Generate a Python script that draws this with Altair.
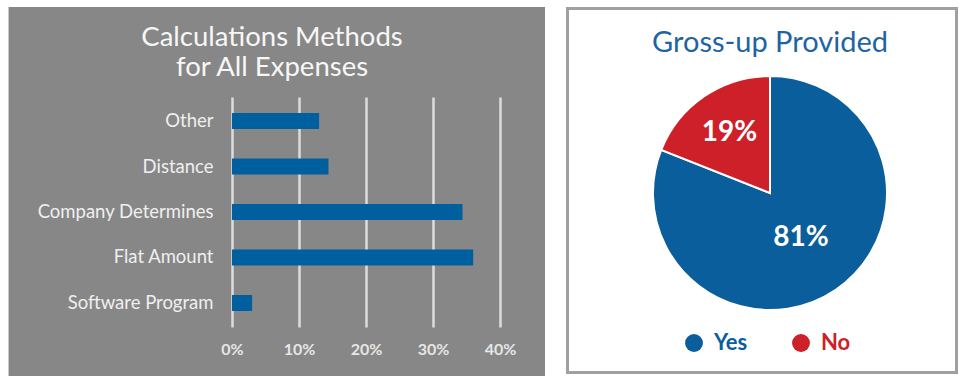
import altair as alt
import pandas as pd

# ---- data ----
methods = ["Other", "Distance", "Company Determines", "Flat Amount", "Software Program"]
shares = [0.13, 0.144, 0.344, 0.36, 0.03]
x_ticks = [0, 0.1, 0.2, 0.3, 0.4]

pie_cats = ["Yes", "No"]
pie_vals = [81, 19]
pie_colors = ["#0a5e9c", "#cd2029"]

left_title = ["Calculations Methods", "for All Expenses"]
right_title = "Gross-up Provided"

GRAY = "#878787"
BAR_BLUE = "#005f9e"
FONT = "Lato"

bars_df = pd.DataFrame({"method": methods, "share": shares})
pie_df = pd.DataFrame({"cat": pie_cats, "value": pie_vals, "idx": list(range(len(pie_cats)))})
one = pd.DataFrame({"k": [0]})

# plot origin is at (232, 97) on the page
def rect(x, x2, y, y2, fill, stroke=None, sw=0):
    kw = dict(fill=fill)
    if stroke:
        kw.update(stroke=stroke, strokeWidth=sw)
    return alt.Chart(one).mark_rect(**kw).encode(
        x=alt.value(x), x2=alt.value(x2), y=alt.value(y), y2=alt.value(y2)
    )

bg_top = rect(-232, 727, -97, -90, "white")
bg_left = rect(-232, -224, -97, 279, "white")
bg_left_edge = rect(-224, -223, -90, 279, "#c9c9c9")
bg_right = rect(313, 727, -97, 279, "white")
panel = rect(335.5, 724.5, -88.5, 275.5, "white", "#a0a0a0", 3)

bars = alt.Chart(bars_df).mark_bar(color=BAR_BLUE).encode(
    x=alt.X(
        "share:Q",
        scale=alt.Scale(domain=[0, 0.4], nice=False, zero=True),
        axis=alt.Axis(
            values=x_ticks, format=".0%", grid=True, gridColor="#dcdcdc", gridWidth=2.5,
            domain=False, ticks=False, labelFontSize=16, labelFont=FONT,
            labelFontWeight="bold", labelColor="#e6e6e6", labelPadding=14, title=None,
            labelFlush=False,
        ),
    ),
    y=alt.Y(
        "method:N", sort=methods,
        scale=alt.Scale(paddingInner=0.648, paddingOuter=0.352),
        axis=alt.Axis(
            domain=False, ticks=False, grid=False, labelFontSize=18.5, labelFont=FONT,
            labelColor="#efefef", labelPadding=19, title=None, labelLimit=400,
        ),
    ),
)

def title_text(txt, x, y, size, color):
    return alt.Chart(one).mark_text(
        text=txt, font=FONT, fontSize=size, color=color, align="center", baseline="alphabetic"
    ).encode(x=alt.value(x), y=alt.value(y))

t1 = title_text(left_title[0], 40, -51, 27.5, "#f7f7f7")
t2 = title_text(left_title[1], 40, -21, 27.5, "#f7f7f7")
t3 = title_text(right_title, 538, -45, 29, "#1f64a2")

color = alt.Color(
    "cat:N",
    scale=alt.Scale(domain=pie_cats, range=pie_colors),
    legend=alt.Legend(
        orient="none", direction="horizontal", legendX=451, legendY=235, title=None,
        symbolType="circle", symbolSize=320, symbolStrokeWidth=0, labelFont=FONT,
        labelFontSize=22, labelFontWeight="bold",
        labelColor={"expr": "datum.value == 'Yes' ? '#0a5e9c' : '#cd2029'"},
        columnPadding=42, labelOffset=9, padding=0,
    ),
)

pie = alt.Chart(pie_df).mark_arc(radius=117, stroke="white", strokeWidth=2).encode(
    theta=alt.Theta("value:Q", stack=True),
    color=color,
    order=alt.Order("idx:Q"),
    x=alt.value(538), y=alt.value(96),
)

def pie_label(cat, r):
    return alt.Chart(pie_df).transform_calculate(
        label="datum.value + '%'"
    ).mark_text(
        radius=r, font=FONT, fontSize=28, fontWeight="bold", color="white",
        align="center", baseline="middle",
    ).encode(
        theta=alt.Theta("value:Q", stack=True),
        order=alt.Order("idx:Q"),
        text=alt.condition(f"datum.cat == '{cat}'", alt.Text("label:N"), alt.value("")),
        x=alt.value(538), y=alt.value(96),
    )

lab_no = pie_label("No", 72)
lab_yes = pie_label("Yes", 55)

chart = alt.layer(
    bg_top, bg_left, bg_left_edge, bg_right, panel, bars, t1, t2, t3, pie, lab_no, lab_yes
).properties(
    width=268, height=230,
    padding={"left": 232, "top": 97, "right": 459, "bottom": 49},
    autosize=alt.AutoSizeParams(type="none"),
    background=GRAY,
).configure_view(stroke=None)

chart.save("out.html", embed_options={"renderer": "svg", "actions": False})
